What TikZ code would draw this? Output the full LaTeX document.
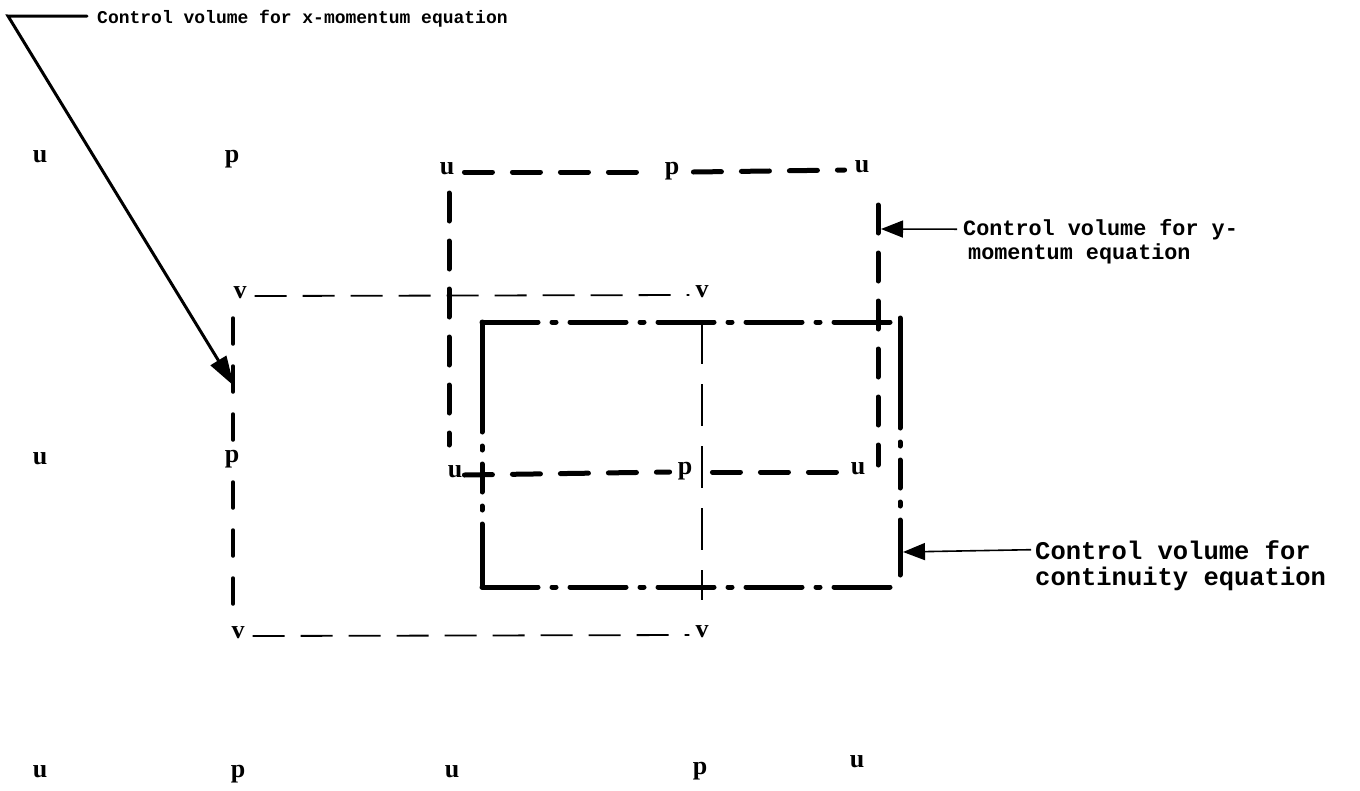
\documentclass[tikz,border=0pt]{standalone}
\usepackage{fontspec}
\setmainfont{Liberation Serif}
\newfontfamily\typefont{Liberation Mono}
\usetikzlibrary{arrows.meta}

\begin{document}
\begin{tikzpicture}[x=1pt,y=-1pt,
  gridpt/.style={font=\fontsize{26}{26}\selectfont\bfseries, inner sep=0pt,
    text height=1ex, text depth=0pt},
  lblx/.style={font=\typefont\bfseries\fontsize{18}{20}\selectfont, inner sep=0pt, anchor=base west},
  lbly/.style={font=\typefont\bfseries\fontsize{21.8}{24}\selectfont, inner sep=0pt, anchor=base west},
  lblc/.style={font=\typefont\bfseries\fontsize{25.5}{26}\selectfont, inner sep=0pt, anchor=base west},
  xcvh/.style={line width=1.8pt, dash pattern=on 32pt off 16pt},
  xcvl/.style={line width=3.5pt, line cap=round, dash pattern=on 26pt off 22pt},
  xcvr/.style={line width=2.4pt, dash pattern=on 42pt off 20pt},
  ycv/.style={line width=5pt, line cap=round, dash pattern=on 28pt off 20pt},
  ccv/.style={line width=5pt, line cap=round, dash pattern=on 56pt off 14pt on 4pt off 14pt},
  ccvside/.style={line width=5pt, line cap=round, dash pattern=on 110pt off 14pt on 4pt off 14pt on 28pt off 14pt on 4pt off 14pt},
  lead/.style={line width=1.6pt, -{Triangle[length=22pt,width=17pt]}},
  leadx/.style={line width=3pt, -{Triangle[length=30pt,width=18pt]}}
]
\fill[white] (0,0) rectangle (1360,790);
\useasboundingbox (0,0) rectangle (1360,790);

% staggered grid points
\node[gridpt] (uA1) at (40,160) {u};
\node[gridpt] (pA1) at (232,160) {p};
\node[gridpt] (uT1) at (447,172) {u};
\node[gridpt] (pT)  at (672,172) {p};
\node[gridpt] (uT2) at (862,170) {u};
\node[gridpt] (vL1) at (240,296) {v};
\node[gridpt] (vR1) at (702,295) {v};
\node[gridpt] (uB1) at (40,462) {u};
\node[gridpt] (pB1) at (232,460) {p};
\node[gridpt] (uM1) at (455,475) {u};
\node[gridpt] (pM)  at (685,472) {p};
\node[gridpt] (uM2) at (858,472) {u};
\node[gridpt] (vL2) at (238,636) {v};
\node[gridpt] (vR2) at (702,635) {v};
\node[gridpt] (uC1) at (40,775) {u};
\node[gridpt] (pC1) at (238,775) {p};
\node[gridpt] (uC2) at (452,775) {u};
\node[gridpt] (pC2) at (700,772) {p};
\node[gridpt] (uC3) at (857,765) {u};

% control volume for the x-momentum equation
\draw[xcvh] ([xshift=8pt]vL1.east) -- ([xshift=-6pt]vR1.west);
\draw[xcvh] ([xshift=8pt]vL2.east) -- ([xshift=-6pt]vR2.west);
\draw[xcvl] (233,318) -- (233,442);
\draw[xcvl] (233,482) -- (233,622);
\draw[xcvr] (702,322) -- (702,600);

% control volume for the y-momentum equation
\draw[ycv] ([xshift=10pt]uT1.east) -- ([xshift=-12pt]pT.west);
\draw[ycv] ([xshift=14pt]pT.east) -- ([xshift=-10pt]uT2.west);
\draw[ycv] (449,193) -- (449,445);
\draw[ycv] (878,205) -- (878,465);
\draw[ycv] ([xshift=2pt]uM1.east) -- ([xshift=-8pt]pM.west);
\draw[ycv] ([xshift=20pt]pM.east) -- ([xshift=-8pt]uM2.west);

% control volume for the continuity equation
\draw[ccv] (482,322) -- (897,322);
\draw[ccvside] (482,322) -- (482,587);
\draw[ccv] (482,587) -- (900,587);
\draw[ccvside] (900,318) -- (900,575);

% labels and leaders
\node[lblx] (xl) at (97,23) {Control volume for x-momentum equation};
\coordinate (xc) at (8,16);
\coordinate (xtip) at (234,386);
\draw[leadx, line cap=round] ([xshift=-10pt,yshift=2pt]xl.west) -- (xc) -- (xtip);

\node[lbly] (yl1) at (963,235) {Control volume for y-};
\node[lbly] (yl2) at (968,259) {momentum equation};
\coordinate (ytip) at (881,229);
\draw[lead] ([xshift=-6pt]yl1.west) -- (ytip);

\node[lblc] (cl1) at (1035,559) {Control volume for};
\node[lblc] (cl2) at (1035,585) {continuity equation};
\coordinate (ctip) at (903,552);
\draw[lead] ([xshift=-4pt]cl1.west) -- (ctip);
\end{tikzpicture}
\end{document}
